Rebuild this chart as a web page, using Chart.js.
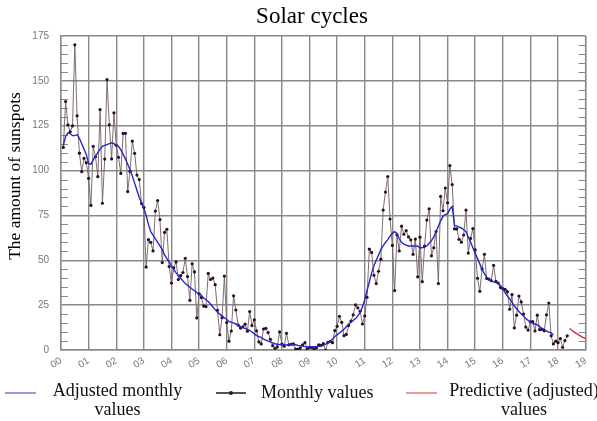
<!DOCTYPE html>
<html>
<head>
<meta charset="utf-8">
<script src="https://cdn.jsdelivr.net/npm/chart.js@4.4.1/dist/chart.umd.min.js"></script>
<style>
  html, body { margin: 0; padding: 0; background: #fff; }
  #wrap { position: relative; width: 597px; height: 421px; }
  .leg { position: absolute; font-family: 'Liberation Serif', 'Times New Roman', serif; font-size: 18px; color: #111; line-height: 19px; white-space: nowrap; }
  .swatch { position: absolute; height: 0; border-top: 2px solid; }
  .dot { position: absolute; width: 4px; height: 4px; background: #222; border-radius: 50%; }
</style>
</head>
<body>
<div id="wrap">
  <canvas id="solarChart" width="597" height="421"></canvas>
  <div class="swatch" style="left:5px; top:392px; width:31px; border-color:#9a9ad8;"></div>
  <div class="leg" style="left:40px; top:381px; width:155px; text-align:center;">Adjusted monthly<br>values</div>
  <div class="swatch" style="left:216px; top:392px; width:30px; border-color:#555;"></div>
  <div class="dot" style="left:229px; top:391px;"></div>
  <div class="leg" style="left:261px; top:383px;">Monthly values</div>
  <div class="swatch" style="left:406px; top:392px; width:31px; border-color:#e69a9a;"></div>
  <div class="leg" style="left:448px; top:381px; width:152px; text-align:center;">Predictive (adjusted)<br>values</div>
</div>
<script>
// monthly sunspot numbers, Feb 2000 .. May 2018
const monthly = [
    112.9, 138.5, 125.5, 121.6, 124.9, 170.1, 130.5, 109.7, 99.4, 106.8, 104.4,
    95.6, 80.6, 113.5, 107.7, 96.6, 134.0, 81.8, 106.4, 150.7, 125.5, 106.5, 132.2,
    114.1, 107.4, 98.4, 120.7, 120.8, 88.3, 99.6, 116.4, 109.6, 97.5, 95.0, 81.6,
    79.5, 46.2, 61.5, 60.0, 55.2, 77.4, 83.3, 72.7, 48.7, 65.5, 67.3, 46.5,
    37.3, 45.8, 49.1, 39.3, 41.5, 43.2, 51.1, 40.9, 27.7, 48.0, 43.5, 17.9,
    31.3, 29.2, 24.5, 24.2, 42.7, 39.3, 40.1, 36.4, 22.1, 8.5, 18.0, 41.2,
    15.3, 4.9, 10.6, 30.2, 22.3, 13.9, 12.2, 12.9, 14.4, 10.5, 21.4, 13.6,
    16.8, 10.7, 4.5, 3.4, 11.7, 12.1, 9.7, 6.0, 2.4, 0.9, 1.7, 10.1,
    3.3, 2.1, 9.3, 2.9, 3.2, 3.4, 0.5, 0.5, 1.1, 2.9, 4.1, 0.8,
    1.5, 1.4, 0.7, 1.2, 2.9, 2.6, 3.5, 0.0, 4.3, 4.8, 4.1, 10.8,
    13.2, 18.8, 15.4, 8.0, 8.7, 13.6, 16.1, 19.6, 25.2, 23.5, 21.6, 14.5,
    19.0, 29.4, 56.2, 54.4, 41.6, 37.0, 43.9, 50.6, 78.0, 88.0, 96.7, 73.0,
    58.3, 33.1, 64.2, 55.2, 69.0, 64.5, 66.5, 63.0, 61.4, 53.3, 61.8, 40.8,
    62.9, 38.1, 57.9, 72.4, 78.7, 52.5, 57.0, 66.0, 37.0, 85.6, 77.6, 90.3,
    82.0, 102.8, 92.2, 67.5, 67.5, 61.7, 60.1, 64.1, 78.0, 54.0, 62.2, 67.7,
    55.8, 40.0, 32.7, 45.2, 53.3, 39.9, 39.5, 38.6, 47.2, 38.2, 37.3, 34.8,
    34.2, 33.8, 32.5, 22.7, 30.9, 12.3, 19.4, 30.1, 26.8, 20.0, 12.8, 11.1,
    15.7, 15.8, 10.6, 19.4, 11.3, 11.5, 10.7, 19.6, 26.2, 7.9, 3.4, 4.9,
    4.1, 6.4, 1.5, 5.3, 7.9
];

// smoothed (adjusted) monthly values, Feb 2000 .. Nov 2017
const smoothed = [
    114, 119, 121, 120.5, 119.5, 119.5, 120, 118, 115, 112, 109,
    104, 103.5, 106, 108, 110, 112, 113.5, 114, 114.5, 115, 115.5, 115,
    114, 113.5, 111.5, 109, 106.5, 103.5, 100.5, 97, 93, 89, 85, 82,
    79, 75, 70, 66, 64, 62, 60, 58, 56, 53, 51, 49,
    47, 45, 43, 41.5, 40, 38.5, 37, 36, 35, 34, 33, 32,
    31.5, 30.5, 29, 28, 27, 25.5, 24, 22.5, 21, 20, 19, 18,
    17, 16, 15.5, 15, 14.5, 13.5, 13, 12.5, 12, 11.5, 11, 10,
    9, 8, 7.5, 7, 6, 5.5, 5, 4.5, 4, 3.5, 3.2, 3,
    3.2, 3.0, 2.8, 2.8, 2.9, 3.0, 2.9, 2.6, 2.4, 2.2, 1.9, 1.7,
    1.8, 1.8, 1.9, 1.9, 2.0, 2.2, 2.6, 3.2, 4.0, 5.0, 6.0, 7.5,
    8.5, 9.5, 10.5, 11.5, 13, 14.5, 15.5, 16.5, 17.5, 19, 21, 24,
    28, 33, 38, 43, 47, 50, 53, 56, 58, 60, 61.5, 63.5,
    65, 66, 65, 62, 60, 59, 58.5, 58, 58, 58, 58, 58,
    57, 57, 57.5, 58, 59.5, 61, 63, 66, 69, 72, 74.5, 75.5,
    76, 78.5, 80, 69.5, 69, 68.5, 68, 67, 66, 63, 60, 57,
    54, 51, 48, 45, 42.5, 40.5, 39.5, 38.5, 38, 37.5, 37, 36,
    34, 32, 30, 28.5, 26.5, 24.5, 23, 21.5, 20, 19, 17.5, 16.5,
    15.5, 15, 14.5, 14, 13, 12, 11.5, 10.5, 10, 9.5, 8.5
];

// predicted smoothed values, Jun 2018 .. Jan 2019
const predicted = [12.0, 11.0, 10.1, 9.2, 8.4, 7.6, 6.9, 6.3];

const yearLabels = ['00', '01', '02', '03', '04', '05', '06', '07', '08', '09',
    '10', '11', '12', '13', '14', '15', '16', '17', '18', '19'];

// month index counted from Jan 2000, x in years
const toPoints = (arr, startMonth) => arr.map((v, i) => ({ x: (startMonth + i) / 12, y: v }));

const gridColor = '#888888';
const tickFont = { family: "'Liberation Sans', Arial, sans-serif", size: 10 };

const ctx = document.getElementById('solarChart').getContext('2d');

const solarChart = new Chart(ctx, {
    type: 'line',
    data: {
        datasets: [
            {
                label: 'Predictive (adjusted) values',
                data: toPoints(predicted, 221),
                borderColor: '#e03030',
                borderWidth: 1.5,
                pointRadius: 0,
                tension: 0.3
            },
            {
                label: 'Adjusted monthly values',
                data: toPoints(smoothed, 1),
                borderColor: '#2626c8',
                borderWidth: 1.4,
                pointRadius: 0,
                tension: 0
            },
            {
                label: 'Monthly values',
                data: toPoints(monthly, 1),
                borderColor: 'rgba(120,100,108,0.95)',
                borderWidth: 1,
                pointRadius: 1.6,
                pointBackgroundColor: '#2a0d26',
                pointBorderWidth: 0,
                tension: 0
            }
        ]
    },
    options: {
        responsive: false,
        animation: false,
        devicePixelRatio: 1,
        layout: {
            padding: { top: 36, right: 9, bottom: 41, left: 0 }
        },
        plugins: {
            legend: { display: false },
            tooltip: { enabled: false }
        },
        scales: {
            x: {
                type: 'linear',
                min: 0,
                max: 19,
                afterFit: (scale) => { scale.height = 30; },
                grid: { color: gridColor, lineWidth: 1.4, drawTicks: false },
                border: { color: gridColor, width: 1.4 },
                ticks: {
                    stepSize: 1,
                    autoSkip: false,
                    minRotation: 32,
                    maxRotation: 32,
                    padding: 5,
                    color: '#777',
                    font: tickFont,
                    callback: (v) => yearLabels[v]
                }
            },
            y: {
                min: 0,
                max: 175,
                afterFit: (scale) => { scale.width = 61; },
                grid: { color: gridColor, lineWidth: 1.4, drawTicks: false },
                border: { color: gridColor, width: 1.4 },
                ticks: {
                    stepSize: 25,
                    padding: 12,
                    color: '#777',
                    font: tickFont
                }
            }
        }
    },
    plugins: [{
        id: 'extras',
        beforeDatasetsDraw: function(chart) {
            const c = chart.ctx;
            const area = chart.chartArea;
            const y = chart.scales.y;
            c.save();
            // right border
            c.strokeStyle = gridColor;
            c.lineWidth = 1.4;
            c.beginPath();
            c.moveTo(area.right, area.top);
            c.lineTo(area.right, area.bottom);
            c.stroke();
            // minor ticks inside the plot, every 5 units
            c.lineWidth = 1;
            for (let v = 5; v < 175; v += 5) {
                if (v % 25 === 0) continue;
                const py = Math.round(y.getPixelForValue(v)) + 0.5;
                c.beginPath();
                c.moveTo(area.left, py);
                c.lineTo(area.left + 7, py);
                c.moveTo(area.right - 7, py);
                c.lineTo(area.right, py);
                c.stroke();
            }
            c.restore();
        },
        afterDraw: function(chart) {
            const c = chart.ctx;
            c.save();
            c.fillStyle = '#000';
            c.textAlign = 'center';
            c.textBaseline = 'middle';
            c.font = "23px 'Liberation Serif', 'Times New Roman', serif";
            c.fillText('Solar cycles', 312, 17);

            c.translate(15, 176);
            c.rotate(-Math.PI / 2);
            c.font = "17.5px 'Liberation Serif', 'Times New Roman', serif";
            c.fillText('The amount of sunspots', 0, 0);
            c.restore();
        }
    }]
});
</script>
</body>
</html>
